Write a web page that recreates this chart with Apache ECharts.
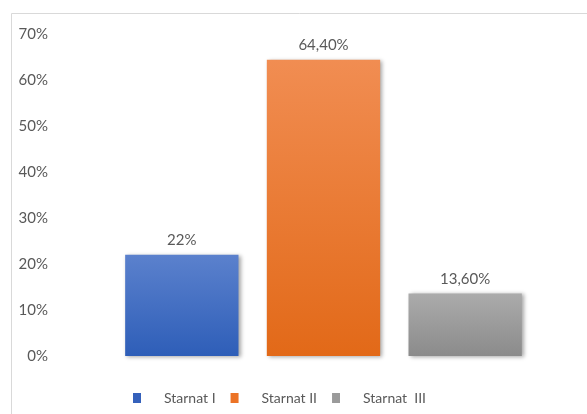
<!DOCTYPE html>
<html>
<head>
<meta charset="utf-8">
<script src="https://cdn.jsdelivr.net/npm/echarts@6/dist/echarts.min.js"></script>
<style>
  html, body { margin: 0; padding: 0; background: #fff; }
  #chart { width: 587px; height: 414px; }
</style>
</head>
<body>
<div id="chart"></div>
<script>
const categories = ["Starnat I", "Starnat II", "Starnat  III"];
const values = [22, 64.4, 13.6];
const valueLabels = ["22%", "64,40%", "13,60%"];
const yTicks = { min: 0, max: 70, interval: 10 };

// top -> bottom gradient stops for each bar
const gradients = [
  ["#5b81cd", "#2e5eb8"],
  ["#f18d52", "#e26918"],
  ["#ababab", "#8b8b8b"],
];
const legendColors = ["#3561bb", "#ec7326", "#9a9a9a"];

const chart = echarts.init(document.getElementById("chart"), null, { renderer: "canvas" });

const series = categories.map((name, i) => ({
  name,
  type: "bar",
  stack: "all",
  barWidth: "80%",
  data: categories.map((_, j) => (j === i ? values[i] : "-")),
  itemStyle: {
    color: new echarts.graphic.LinearGradient(0, 0, 0, 1, [
      { offset: 0, color: gradients[i][0] },
      { offset: 1, color: gradients[i][1] },
    ]),
    shadowColor: "rgba(0,0,0,0.35)",
    shadowBlur: 4,
    shadowOffsetX: 2,
    shadowOffsetY: 1,
  },
  label: {
    show: true,
    position: "top",
    distance: 7,
    color: "#595959",
    fontFamily: "Lato",
    fontSize: 15,
    formatter: () => valueLabels[i],
  },
}));

chart.setOption({
  animation: false,
  backgroundColor: "#fff",
  color: legendColors,
  graphic: [
    {
      type: "rect",
      shape: { x: 11.5, y: 13.5, width: 600, height: 420 },
      style: { fill: "none", stroke: "#d9d9d9", lineWidth: 1 },
      silent: true,
    },
  ],
  grid: { left: 111, top: 34, width: 425, height: 322 },
  legend: {
    left: 128,
    top: 386,
    icon: "rect",
    itemWidth: 8,
    itemHeight: 10,
    itemGap: 15,
    data: categories.map((name, i) => ({ name, itemStyle: { color: legendColors[i] } })),
    textStyle: {
      color: "#595959",
      fontFamily: "Lato",
      fontSize: 14,
      padding: [0, 0, 0, 18],
    },
  },
  xAxis: {
    type: "category",
    data: categories,
    axisLine: { show: false },
    axisTick: { show: false },
    axisLabel: { show: false },
  },
  yAxis: {
    type: "value",
    min: yTicks.min,
    max: yTicks.max,
    interval: yTicks.interval,
    splitLine: { show: false },
    axisLine: { show: false },
    axisTick: { show: false },
    axisLabel: {
      color: "#595959",
      fontFamily: "Lato",
      fontSize: 15,
      margin: 63,
      formatter: (v) => v + "%",
    },
  },
  series,
});
</script>
</body>
</html>
